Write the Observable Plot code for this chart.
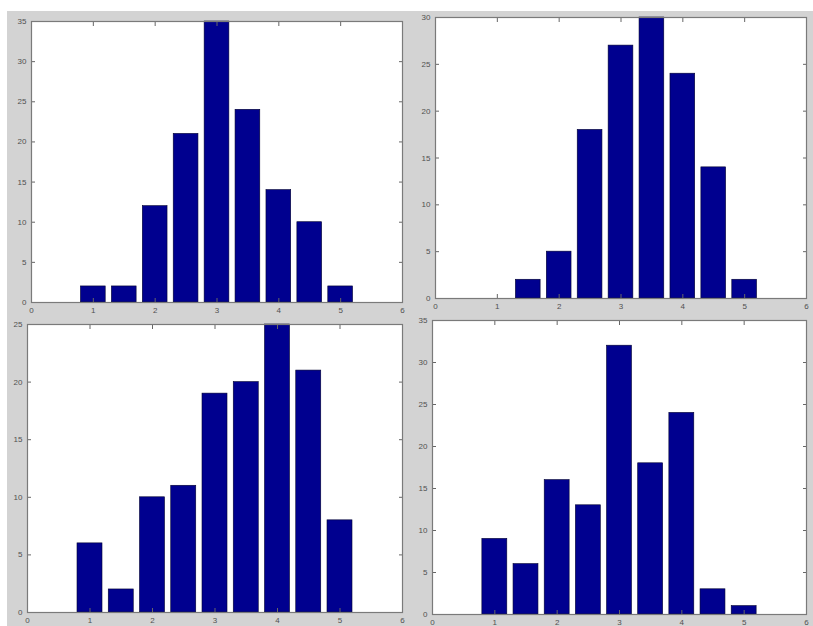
<!DOCTYPE html>
<html><head><meta charset="utf-8">
<script src="https://cdn.jsdelivr.net/npm/d3@7"></script>
<script src="https://cdn.jsdelivr.net/npm/@observablehq/plot@0.6"></script>
<style>
html,body{margin:0;padding:0;background:#fff;}
#fig{position:relative;width:813px;height:626px;overflow:hidden;background:#fff;}
#bg{position:absolute;left:7px;top:11px;width:806px;height:615px;background:#d3d3d3;}
.panel{position:absolute;}
.panel svg{overflow:visible;background:transparent;}
</style></head><body><div id="fig"><div id="bg"></div></div>
<script>
// Data (bin centers and counts)
const centersA = [1, 1.5, 2, 2.5, 3, 3.5, 4, 4.5, 5];
const countsA  = [2, 2, 12, 21, 35, 24, 14, 10, 2];
const centersB = [1.5, 2, 2.5, 3, 3.5, 4, 4.5, 5];
const countsB  = [2, 5, 18, 27, 30, 24, 14, 2];
const centersC = [1, 1.5, 2, 2.5, 3, 3.5, 4, 4.5, 5];
const countsC  = [6, 2, 10, 11, 19, 20, 25, 21, 8];
const centersD = [1, 1.5, 2, 2.5, 3, 3.5, 4, 4.5, 5];
const countsD  = [9, 6, 16, 13, 32, 18, 24, 3, 1];
const xTicks  = [0, 1, 2, 3, 4, 5, 6];
const yTicksA = [0, 5, 10, 15, 20, 25, 30, 35];
const yTicksB = [0, 5, 10, 15, 20, 25, 30];
const yTicksC = [0, 5, 10, 15, 20, 25];
const yTicksD = [0, 5, 10, 15, 20, 25, 30, 35];

const halfBar = 0.2; // bar width 0.8 of the 0.5 bin spacing

const panels = [
  {centers: centersA, counts: countsA, yTicks: yTicksA, left: 0,   top: 11,  width: 405, height: 309, ml: 31, mr: 3, mt: 10, mb: 18},
  {centers: centersB, counts: countsB, yTicks: yTicksB, left: 405, top: 11,  width: 408, height: 309, ml: 30, mr: 7, mt: 6,  mb: 22},
  {centers: centersC, counts: countsC, yTicks: yTicksC, left: 0,   top: 320, width: 405, height: 306, ml: 27, mr: 3, mt: 4,  mb: 14},
  {centers: centersD, counts: countsD, yTicks: yTicksD, left: 405, top: 320, width: 408, height: 306, ml: 27, mr: 7, mt: 0,  mb: 12}
];

const fig = document.getElementById("fig");
const labelStyle = {fontSize: 8, fill: "#505050", fontFamily: "Liberation Sans"};

for (const p of panels) {
  const data = p.centers.map((c, i) => ({x: c, y: p.counts[i]}));
  const yMax = p.yTicks[p.yTicks.length - 1];
  const chart = Plot.plot({
    width: p.width,
    height: p.height,
    marginLeft: p.ml, marginRight: p.mr, marginTop: p.mt, marginBottom: p.mb,
    style: {background: "transparent", fontFamily: "Liberation Sans", overflow: "visible"},
    x: {domain: [0, 6]},
    y: {domain: [0, yMax]},
    marks: [
      Plot.frame({fill: "white", stroke: null}),
      Plot.rectY(data, {x1: d => d.x - halfBar, x2: d => d.x + halfBar, y1: 0, y2: "y", fill: "#00008f", stroke: "#000030", strokeWidth: 0.6}),
      Plot.axisX({anchor: "bottom", ticks: xTicks, tickSize: -4, text: null, stroke: "#666", label: null}),
      Plot.axisX({anchor: "top", ticks: xTicks, tickSize: -4, text: null, stroke: "#666", label: null}),
      Plot.axisY({anchor: "left", ticks: p.yTicks, tickSize: -4, text: null, stroke: "#666", label: null}),
      Plot.axisY({anchor: "right", ticks: p.yTicks, tickSize: -4, text: null, stroke: "#666", label: null}),
      Plot.axisX({anchor: "bottom", ticks: xTicks, tickSize: 0, tickPadding: 5, tickFormat: d => String(d), label: null, ...labelStyle}),
      Plot.axisY({anchor: "left", ticks: p.yTicks, tickSize: 0, tickPadding: 5, tickFormat: d => String(d), label: null, ...labelStyle}),
      Plot.frame({stroke: "#7a7a7a", strokeWidth: 1.2})
    ]
  });
  const div = document.createElement("div");
  div.className = "panel";
  div.style.left = p.left + "px";
  div.style.top = p.top + "px";
  div.appendChild(chart);
  fig.appendChild(div);
}
</script>
</body></html>
